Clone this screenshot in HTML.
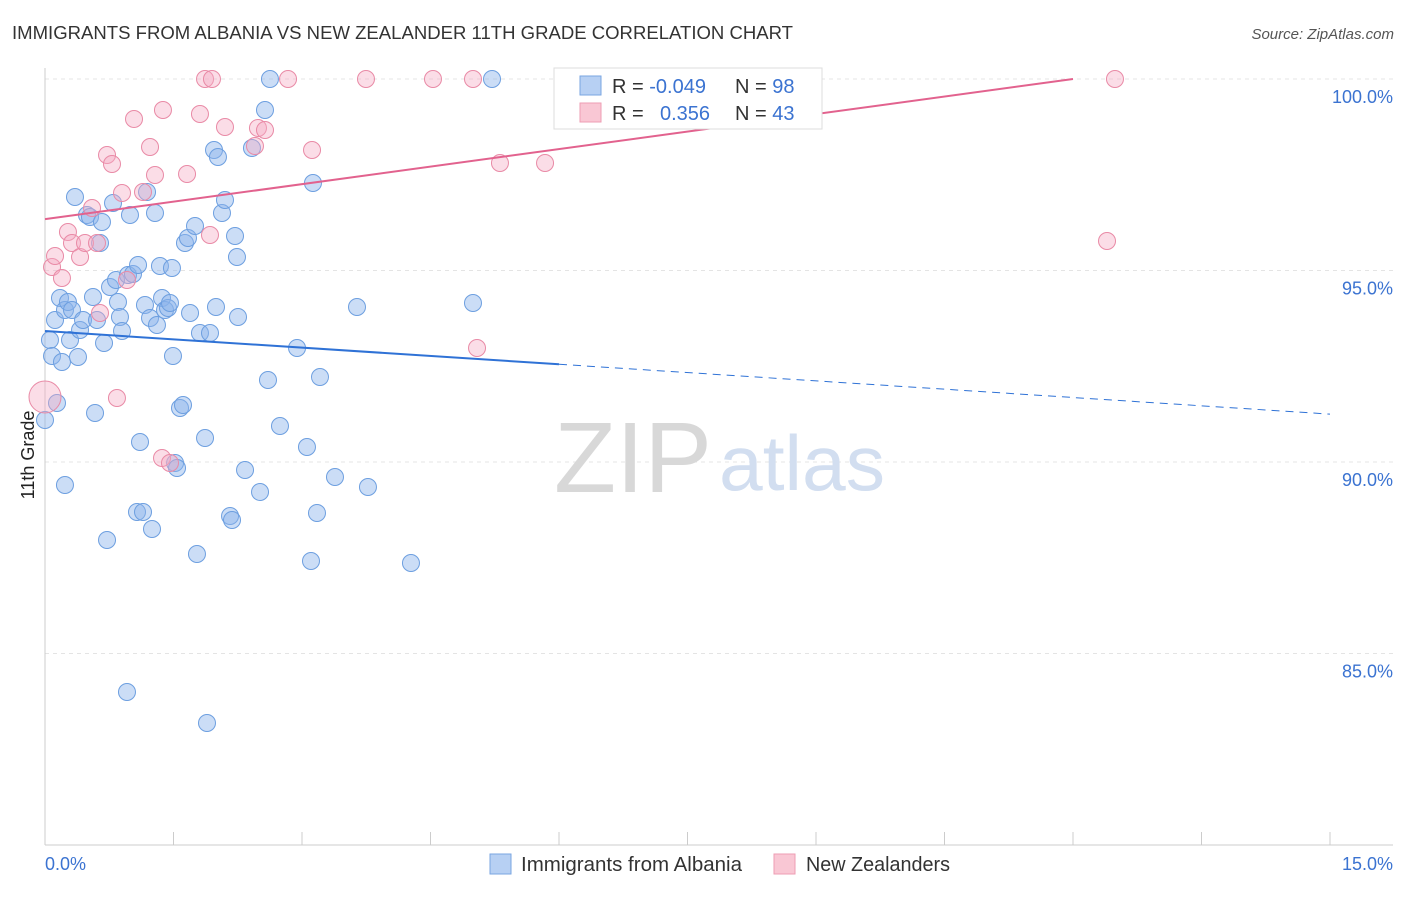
<!DOCTYPE html>
<html><head><meta charset="utf-8"><style>
body{margin:0;background:#fff;font-family:"Liberation Sans",sans-serif;}
svg text{font-family:"Liberation Sans",sans-serif;}
</style></head><body>
<svg id="chart" width="1406" height="892">
<text x="12" y="39" font-size="18" fill="#333" textLength="781" lengthAdjust="spacingAndGlyphs">IMMIGRANTS FROM ALBANIA VS NEW ZEALANDER 11TH GRADE CORRELATION CHART</text>
<text x="1394" y="39" font-size="15" fill="#555" text-anchor="end" font-style="italic">Source: ZipAtlas.com</text>
<g id="grid"></g>
<text x="554" y="492" font-size="100" fill="#d8d8d8" font-family="Liberation Serif" textLength="158" lengthAdjust="spacingAndGlyphs">ZIP</text>
<text x="719" y="490" font-size="78" fill="#d2def0" textLength="166" lengthAdjust="spacingAndGlyphs">atlas</text>
<g id="pts"></g>
<g id="lines"></g>
<text transform="translate(34,455) rotate(-90)" font-size="18" fill="#222" text-anchor="middle">11th Grade</text>
<text x="45" y="870" font-size="18" fill="#3b73d1">0.0%</text>
<text x="1393" y="870" font-size="18" fill="#3b73d1" text-anchor="end">15.0%</text>
<g>
<rect x="554" y="68" width="268" height="61" fill="#fff" stroke="#ddd"/>
<rect x="580" y="76" width="21" height="19" fill="#b7d0f3" stroke="#7aa6e2"/>
<rect x="580" y="103" width="21" height="19" fill="#f9c7d4" stroke="#ee9db3"/>
<text x="612" y="93" font-size="20" fill="#333">R = <tspan fill="#3b73d1">-0.049</tspan></text>
<text x="735" y="93" font-size="20" fill="#333">N = <tspan fill="#3b73d1">98</tspan></text>
<text x="612" y="120" font-size="20" fill="#333">R = <tspan fill="#3b73d1" x="660">0.356</tspan></text>
<text x="735" y="120" font-size="20" fill="#333">N = <tspan fill="#3b73d1">43</tspan></text>
</g>
<g>
<rect x="490" y="854" width="21" height="20" fill="#b7d0f3" stroke="#7aa6e2"/>
<text x="521" y="871" font-size="20" fill="#333" textLength="221" lengthAdjust="spacingAndGlyphs">Immigrants from Albania</text>
<rect x="774" y="854" width="21" height="20" fill="#f9c7d4" stroke="#ee9db3"/>
<text x="806" y="871" font-size="20" fill="#333" textLength="144" lengthAdjust="spacingAndGlyphs">New Zealanders</text>
</g>
</svg>
<script>
const yTicks=[100,95,90,85];
const yTickLabels=["100.0%","95.0%","90.0%","85.0%"];
const xTicks=[0,1.5,3,4.5,6,7.5,9,10.5,12,13.5,15];
const bluePx=[[45,420],[50,340],[52,356],[55,320],[57,403],[60,298],[62,362],[65,485],[65,310],[68,302],[70,340],[72,310],[75,197],[78,357],[80,330],[83,320],[87,215],[90,217],[93,297],[95,413],[97,320],[100,243],[102,222],[104,343],[107,540],[110,287],[113,203],[116,280],[118,302],[120,317],[122,331],[127,692],[128,275],[130,215],[133,274],[137,512],[138,265],[140,442],[143,512],[145,305],[147,192],[150,318],[152,529],[155,213],[157,325],[160,266],[162,298],[165,310],[168,308],[170,303],[172,268],[173,356],[175,463],[177,468],[180,408],[183,405],[185,243],[188,238],[190,313],[195,226],[197,554],[200,333],[205,438],[207,723],[210,333],[214,150],[216,307],[218,157],[222,213],[225,200],[230,516],[232,520],[235,236],[237,257],[238,317],[245,470],[252,148],[260,492],[265,110],[268,380],[270,79],[280,426],[297,348],[307,447],[311,561],[313,183],[317,513],[320,377],[335,477],[357,307],[368,487],[411,563],[473,303],[492,79]];
const pinkPx=[[52,267],[55,256],[62,278],[68,232],[72,243],[80,257],[85,243],[92,208],[97,243],[100,313],[107,155],[112,164],[117,398],[122,193],[127,280],[134,119],[143,192],[150,147],[155,175],[162,458],[163,110],[170,463],[187,174],[200,114],[205,79],[210,235],[212,79],[225,127],[255,146],[258,128],[265,130],[288,79],[312,150],[366,79],[433,79],[473,79],[477,348],[500,163],[545,163],[642,79],[700,79],[1107,241],[1115,79]];
const blueX=bluePx.map(p=>+((p[0]-45)*15/1285).toFixed(3));
const blueY=bluePx.map(p=>+(100-(p[1]-79)*5/191.5).toFixed(3));
const pinkX=pinkPx.map(p=>+((p[0]-45)*15/1285).toFixed(3));
const pinkY=pinkPx.map(p=>+(100-(p[1]-79)*5/191.5).toFixed(3));
const blueTrend=[93.42,91.25];
const pinkTrend=[96.34,100.0,12];
const X=v=>45+v*1285/15, Y=v=>79+(100-v)*191.5/5;
const NS="http://www.w3.org/2000/svg";
function mk(t,a,parent){const e=document.createElementNS(NS,t);for(const k in a)e.setAttribute(k,a[k]);parent.appendChild(e);return e;}
const grid=document.getElementById('grid');
yTicks.forEach((t,i)=>{
 const l=mk('line',{x1:45,x2:1393,y1:Y(t),y2:Y(t),stroke:'#e4e4e4','stroke-dasharray':'4,4'},grid);
 
 
 const tx=mk('text',{x:1393,y:Y(t)+24,'font-size':18,fill:'#3b73d1','text-anchor':'end'},grid);
 tx.textContent=yTickLabels[i];
 
 
});
const ax=mk('line',{x1:45,x2:45,y1:68,y2:845,stroke:'#ccc'},grid);


const bx=mk('line',{x1:45,x2:1393,y1:845,y2:845,stroke:'#ccc'},grid);


xTicks.forEach(t=>{const l=mk('line',{x1:X(t),x2:X(t),y1:832,y2:845,stroke:'#ccc'},grid);
 
 });
const pts=document.getElementById('pts');
blueX.forEach((x,i)=>{const c=mk('circle',{cx:X(x),cy:Y(blueY[i]),r:8.5,fill:'rgba(140,180,235,0.45)',stroke:'#6d9fe0','stroke-width':1},pts);
 
 });
pinkX.forEach((x,i)=>{const c=mk('circle',{cx:X(x),cy:Y(pinkY[i]),r:8.5,fill:'rgba(245,170,195,0.4)',stroke:'#e98aa6','stroke-width':1},pts);
 
 });
const big=mk('circle',{cx:X(0),cy:Y(100-(397-79)*5/191.5),r:16,fill:'rgba(245,170,195,0.4)',stroke:'#e98aa6'},pts);


const lines=document.getElementById('lines');
const bAt=x=>blueTrend[0]+(blueTrend[1]-blueTrend[0])*x/15;
const b1=mk('line',{x1:X(0),y1:Y(bAt(0)),x2:X(6),y2:Y(bAt(6)),stroke:'#2f72d6','stroke-width':2},lines);


const b2=mk('line',{x1:X(6),y1:Y(bAt(6)),x2:X(15),y2:Y(bAt(15)),stroke:'#2f72d6','stroke-width':1,'stroke-dasharray':'8,6'},lines);


const p1=mk('line',{x1:X(0),y1:Y(pinkTrend[0]),x2:X(pinkTrend[2]),y2:Y(pinkTrend[1]),stroke:'#e2628e','stroke-width':2},lines);


</script>
</body></html>
